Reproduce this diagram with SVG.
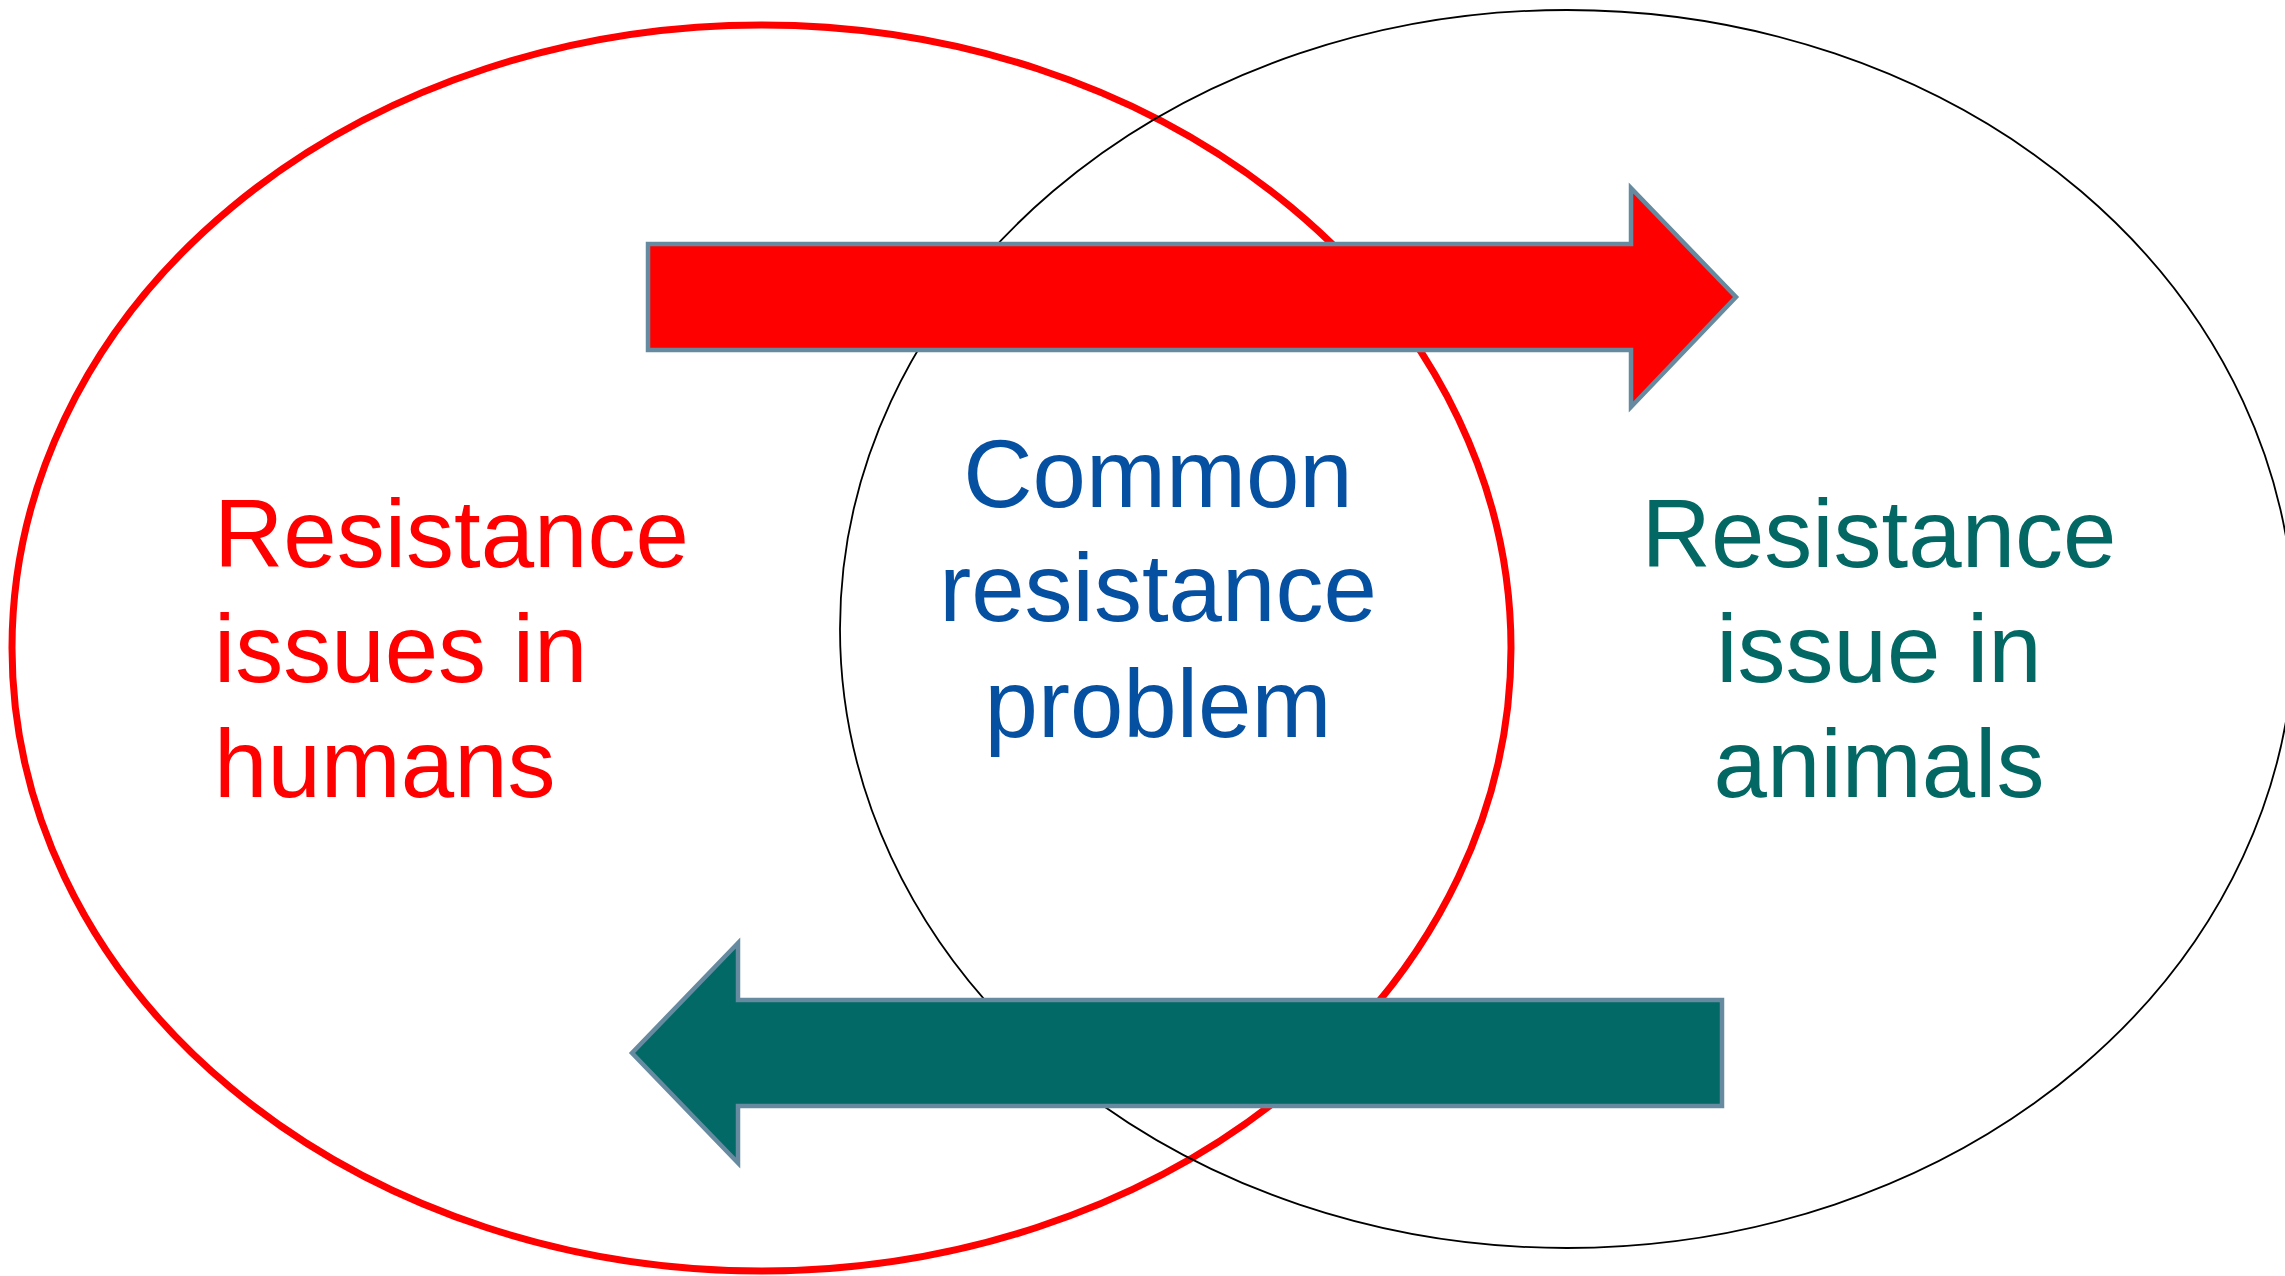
<svg xmlns="http://www.w3.org/2000/svg" width="2285" height="1276" viewBox="0 0 2285 1276">
<style>
.t{font-family:"Liberation Sans",Arial,sans-serif;font-size:96px}
.arr{stroke:#668BA0;stroke-width:4.5;stroke-linejoin:miter}
</style>
<rect width="2285" height="1276" fill="#FFFFFF"/>
<g id="humans-set">
<ellipse cx="761.5" cy="648" rx="749.5" ry="623" fill="none" stroke="#FF0000" stroke-width="7"/>
<text class="t" fill="#FF0000" x="214" y="567">Resistance</text>
<text class="t" fill="#FF0000" x="214" y="682">issues in</text>
<text class="t" fill="#FF0000" x="214" y="797">humans</text>
</g>
<g id="animals-set">
<ellipse cx="1567" cy="629" rx="727" ry="619" fill="none" stroke="#000000" stroke-width="1.8"/>
<text class="t" fill="#036864" text-anchor="middle" x="1879" y="567">Resistance</text>
<text class="t" fill="#036864" text-anchor="middle" x="1879" y="682">issue in</text>
<text class="t" fill="#036864" text-anchor="middle" x="1879" y="797">animals</text>
</g>
<g id="common">
<text class="t" fill="#0650A2" text-anchor="middle" x="1158" y="507">Common</text>
<text class="t" fill="#0650A2" text-anchor="middle" x="1158" y="621">resistance</text>
<text class="t" fill="#0650A2" text-anchor="middle" x="1158" y="737">problem</text>
</g>
<g id="connectors">
<polygon class="arr" fill="#FF0000" points="648,244 1631,244 1631,188 1736,297 1631,407 1631,350 648,350"/>
<polygon class="arr" fill="#026966" points="1722,1000 738,1000 738,943 632,1053 738,1163 738,1106 1722,1106"/>
</g>
</svg>
